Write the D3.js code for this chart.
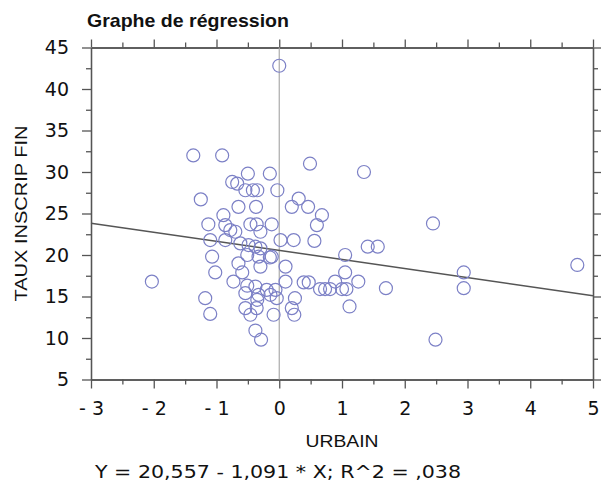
<!DOCTYPE html>
<html>
<head>
<meta charset="utf-8">
<script src="https://cdn.jsdelivr.net/npm/d3@7"></script>
<style>
  body { margin: 0; background: #fff; }
  svg { display: block; }
</style>
</head>
<body>
<svg id="chart" width="601" height="496"></svg>
<script>
// URBAIN (x) vs TAUX INSCRIP FIN (y)
const urbain = [
  0.0, -2.03, -1.37, -0.91, 0.49, 1.35, 2.45, 2.94, 2.94, 2.49,
  4.75, 1.7, 1.12, 1.41, 1.57, 1.05, 1.05, 1.26, -0.03, 0.31,
  0.2, 0.46, 0.68, 0.6, 0.02, 0.23, 0.56, 0.1, 0.1, 0.39,
  0.47, 0.65, 0.73, 0.81, 0.89, 1.0, 1.07, 0.25, -0.04, 0.2,
  0.24, -0.09, -0.06, -0.12, -0.12, -0.5, -0.15, -0.75, -0.67, -0.54,
  -0.42, -0.35, -1.25, -0.65, -0.37, -0.89, -1.13, -0.86, -0.46, -0.36,
  -0.78, -0.3, -0.7, -1.1, -0.86, -0.62, -0.49, -0.38, -0.3, -1.07,
  -0.51, -0.33, -0.15, -1.02, -0.65, -0.59, -0.3, -0.73, -0.51, -0.38,
  -0.2, -0.54, -0.33, -0.14, -1.18, -1.1, -0.35, -0.54, -0.46, -0.36,
  -0.38, -0.29
]
const tauxInscrip = [
  42.8, 16.8, 32, 32, 31, 30, 23.8, 17.9, 16, 9.8,
  18.8, 16, 13.8, 21, 21, 20, 17.9, 16.8, 27.8, 26.8,
  25.8, 25.8, 24.8, 23.6, 21.8, 21.8, 21.7, 18.6, 16.8, 16.7,
  16.7, 15.9, 15.9, 15.9, 16.8, 15.9, 15.9, 14.8, 14.8, 13.6,
  12.8, 12.8, 15.8, 19.8, 23.7, 29.8, 29.8, 28.8, 28.6, 27.8,
  27.8, 27.8, 26.7, 25.8, 25.8, 24.8, 23.7, 23.6, 23.7, 23.7,
  23.0, 22.8, 22.8, 21.8, 21.8, 21.4, 21.2, 21.0, 20.8, 19.8,
  20, 19.8, 19.7, 17.9, 19.0, 17.9, 18.6, 16.8, 16.3, 16.2,
  15.8, 15.4, 15.2, 15.2, 14.8, 12.9, 14.6, 13.6, 12.8, 13.6,
  10.9, 9.8
]

// fitted line Y = 20,557 - 1,091 * X
const intercept = 20.557
const slope = -1.091

const xTicks = [-3, -2, -1, 0, 1, 2, 3, 4, 5]
const yTicks = [5, 10, 15, 20, 25, 30, 35, 40, 45]

const svg = d3.select('#chart')
const mLeft = 91, mRight = 593, mTop = 47.5, mBottom = 379.5
const axisColor = '#555'

const x = d3.scaleLinear().domain([-3, 5]).range([mLeft, mRight])
const y = d3.scaleLinear().domain([5, 45]).range([mBottom, mTop])

const xMinor = d3.range(-2.5, 5, 1)
const yMinor = d3.range(7.5, 45, 5)

function styleAxis(g) {
  g.select('.domain').attr('stroke', axisColor).attr('stroke-width', 1.3)
  g.selectAll('.tick line').attr('stroke', axisColor).attr('stroke-width', 1.3)
  g.selectAll('.tick text')
    .attr('fill', '#111')
    .style('font-family', 'DejaVu Sans')
    .style('font-size', '19px')
}

// minor ticks first, so the major ones sit on top
const minorAxes = [
  [d3.axisBottom(x), `translate(0,${mBottom})`, xMinor],
  [d3.axisTop(x), `translate(0,${mTop})`, xMinor],
  [d3.axisLeft(y), `translate(${mLeft},0)`, yMinor],
  [d3.axisRight(y), `translate(${mRight},0)`, yMinor]
]
minorAxes.forEach(([ax, tr, vals]) => {
  svg.append('g').attr('transform', tr)
    .call(ax.tickValues(vals).tickSize(5).tickSizeOuter(0).tickFormat(''))
    .call(styleAxis)
})

svg.append('g').attr('transform', `translate(0,${mBottom})`)
  .call(d3.axisBottom(x).tickValues(xTicks).tickSize(9).tickSizeOuter(0).tickPadding(13)
    .tickFormat(d => d < 0 ? '- ' + Math.abs(d) : d))
  .call(styleAxis)

svg.append('g').attr('transform', `translate(0,${mTop})`)
  .call(d3.axisTop(x).tickValues(xTicks).tickSize(8).tickSizeOuter(0).tickFormat(''))
  .call(styleAxis)

svg.append('g').attr('transform', `translate(${mLeft},0)`)
  .call(d3.axisLeft(y).tickValues(yTicks).tickSize(9).tickSizeOuter(0).tickPadding(13))
  .call(styleAxis)

svg.append('g').attr('transform', `translate(${mRight},0)`)
  .call(d3.axisRight(y).tickValues(yTicks).tickSize(8).tickSizeOuter(0).tickFormat(''))
  .call(styleAxis)

// vertical reference at x = 0
svg.append('line')
  .attr('x1', x(0)).attr('x2', x(0))
  .attr('y1', mTop).attr('y2', mBottom)
  .attr('stroke', '#aaa').attr('stroke-width', 1.2)

// regression line over the full x domain
const xs = x.domain()
svg.append('line')
  .attr('x1', x(xs[0])).attr('y1', y(intercept + slope * xs[0]))
  .attr('x2', x(xs[1])).attr('y2', y(intercept + slope * xs[1]))
  .attr('stroke', '#555').attr('stroke-width', 1.5)

svg.append('g').selectAll('circle')
  .data(urbain.map((u, i) => [u, tauxInscrip[i]]))
  .enter().append('circle')
  .attr('cx', d => x(d[0]))
  .attr('cy', d => y(d[1]))
  .attr('r', 6.5)
  .attr('fill', 'none')
  .attr('stroke', '#7c80c6')
  .attr('stroke-width', 1.2)

// texts
svg.append('text')
  .attr('x', 87).attr('y', 27)
  .attr('textLength', 202).attr('lengthAdjust', 'spacingAndGlyphs')
  .style('font-family', 'Liberation Sans').style('font-weight', 'bold').style('font-size', '19px')
  .attr('fill', '#111')
  .text('Graphe de régression')

svg.append('text')
  .attr('transform', `translate(27,${(mTop + mBottom) / 2}) rotate(-90)`)
  .attr('text-anchor', 'middle')
  .attr('textLength', 176).attr('lengthAdjust', 'spacingAndGlyphs')
  .style('font-family', 'Liberation Sans').style('font-size', '17px')
  .attr('fill', '#111')
  .text('TAUX INSCRIP FIN')

svg.append('text')
  .attr('x', 342).attr('y', 447)
  .attr('text-anchor', 'middle')
  .attr('textLength', 73).attr('lengthAdjust', 'spacingAndGlyphs')
  .style('font-family', 'Liberation Sans').style('font-size', '17px')
  .attr('fill', '#111')
  .text('URBAIN')

svg.append('text')
  .attr('x', 95).attr('y', 478)
  .attr('textLength', 366).attr('lengthAdjust', 'spacingAndGlyphs')
  .style('font-family', 'DejaVu Sans').style('font-size', '18px')
  .attr('fill', '#111')
  .text('Y = 20,557 - 1,091 * X; R^2 = ,038')
</script>
</body>
</html>
